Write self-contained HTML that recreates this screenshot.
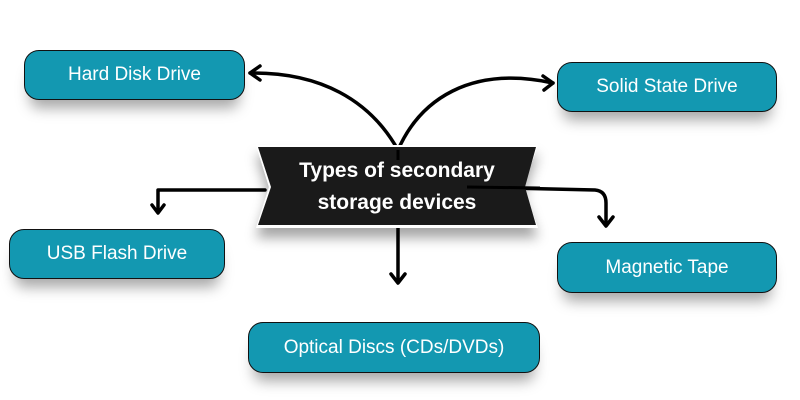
<!DOCTYPE html>
<html><head><style>
body{margin:0;width:800px;height:400px;background:#fff;overflow:hidden;position:relative;font-family:"Liberation Sans",sans-serif}
.b{position:absolute;background:#1398b1;border:1.5px solid #111;border-radius:15px;color:#fff;font-size:19px;display:flex;align-items:center;justify-content:center;box-shadow:0 14px 14px -6px rgba(0,0,0,.35);box-sizing:border-box}
svg{position:absolute;left:0;top:0}
</style></head><body>
<div class="b" style="left:24px;top:50px;width:221px;height:50px">Hard Disk Drive</div>
<div class="b" style="left:557px;top:62px;width:220px;height:50px">Solid State Drive</div>
<div class="b" style="left:9px;top:229px;width:216px;height:50px">USB Flash Drive</div>
<div class="b" style="left:557px;top:242px;width:220px;height:51px">Magnetic Tape</div>
<div class="b" style="left:248px;top:322px;width:292px;height:51px">Optical Discs (CDs/DVDs)</div>
<svg width="800" height="400" viewBox="0 0 800 400">
<defs><filter id="s" x="-20%" y="-20%" width="140%" height="160%"><feDropShadow dx="0" dy="10" stdDeviation="6" flood-opacity=".35"/></filter></defs>
<g fill="none" stroke="#000" stroke-width="3.5" stroke-linecap="round" stroke-linejoin="round">
<path d="M398 150 C370 100 320 72 250 73"/><path d="M260 66 L250 73 L260 80"/>
<path d="M398 150 C420 100 470 65 553 83"/><path d="M543 76 L553 83 L544 90"/>
<path d="M265 190 L158 190 L158 212"/><path d="M152 205 L158 213 L164 205"/>
<path d="M398 228 L398 282"/><path d="M391 274 L398 283 L405 274"/>
<path d="M467 187 L595 190 Q606 191 606 203 L606 225"/><path d="M599 217 L606 226 L613 217"/>
</g>
<polygon points="256,145 538,145 523,187 538,228 256,228 269,187" fill="#fff" filter="url(#s)"/>
<polygon points="258,147 536,147 525,187 536,225 258,225 271,187" fill="#1a1a1a"/>
<path d="M467 187 L540 188" stroke="#000" stroke-width="3"/>
<path d="M398 150 L398 160" stroke="#000" stroke-width="3"/>
<text x="397" y="177" fill="#fff" font-size="21" font-weight="bold" text-anchor="middle" font-family="Liberation Sans,sans-serif">Types of secondary</text>
<text x="397" y="209" fill="#fff" font-size="21" font-weight="bold" text-anchor="middle" font-family="Liberation Sans,sans-serif">storage devices</text>
</svg>
</body></html>
